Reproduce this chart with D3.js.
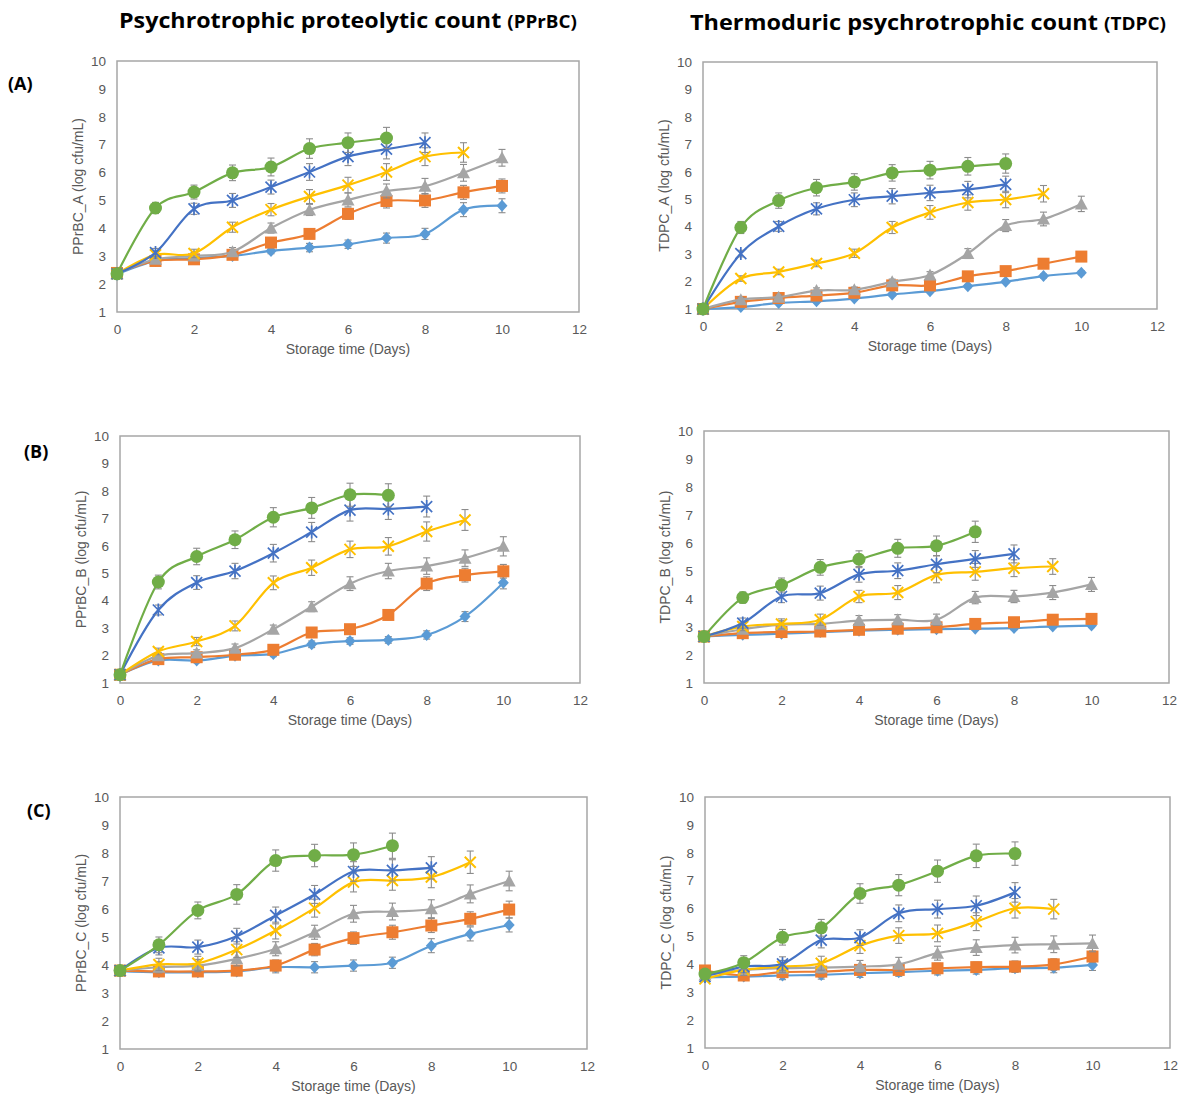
<!DOCTYPE html>
<html>
<head>
<meta charset="utf-8">
<script src="https://cdn.jsdelivr.net/npm/d3@7"></script>
<style>
  body { margin: 0; background: #fff; }
  text { font-family: "Liberation Sans", Arial, sans-serif; }
</style>
</head>
<body>
<script>
// days sampled (series stop early when spoiled)
const days = [0, 1, 2, 3, 4, 5, 6, 7, 8, 9, 10];
const xTicks = [0, 2, 4, 6, 8, 10, 12];
const yTicks = [1, 2, 3, 4, 5, 6, 7, 8, 9, 10];

// series order: diamond, square, triangle, cross, star, circle
const seriesKeys = ["diamond", "square", "triangle", "cross", "star", "circle"];
const seriesColors = ["#5B9BD5", "#ED7D31", "#A5A5A5", "#FFC000", "#4472C4", "#70AD47"];

const pprbcA = [
  [2.35, 2.83, 2.93, 3.01, 3.19, 3.31, 3.43, 3.65, 3.80, 4.67, 4.81],
  [2.40, 2.83, 2.89, 3.05, 3.49, 3.80, 4.52, 4.98, 5.00, 5.29, 5.52],
  [2.37, 2.89, 3.01, 3.16, 4.01, 4.66, 5.02, 5.34, 5.51, 5.99, 6.53],
  [2.37, 3.05, 3.10, 4.04, 4.67, 5.14, 5.55, 6.02, 6.57, 6.72],
  [2.37, 3.13, 4.70, 5.00, 5.48, 6.02, 6.57, 6.84, 7.07],
  [2.37, 4.73, 5.30, 5.99, 6.20, 6.86, 7.07, 7.24]
];
const pprbcAErr = [
  [0.05, 0.08, 0.08, 0.10, 0.10, 0.15, 0.15, 0.18, 0.20, 0.25, 0.25],
  [0.05, 0.08, 0.10, 0.12, 0.12, 0.15, 0.20, 0.25, 0.25, 0.25, 0.25],
  [0.05, 0.10, 0.12, 0.15, 0.18, 0.20, 0.25, 0.25, 0.28, 0.30, 0.30],
  [0.05, 0.12, 0.15, 0.18, 0.22, 0.25, 0.28, 0.30, 0.32, 0.35],
  [0.05, 0.15, 0.20, 0.25, 0.25, 0.30, 0.32, 0.35, 0.35],
  [0.05, 0.20, 0.25, 0.28, 0.32, 0.35, 0.35, 0.38]
];

const tdpcA = [
  [1.00, 1.07, 1.22, 1.28, 1.38, 1.53, 1.65, 1.83, 1.99, 2.20, 2.32],
  [1.00, 1.26, 1.40, 1.49, 1.59, 1.86, 1.86, 2.19, 2.38, 2.65, 2.91],
  [1.00, 1.34, 1.43, 1.67, 1.70, 1.99, 2.24, 3.02, 4.04, 4.28, 4.83],
  [1.00, 2.11, 2.35, 2.66, 3.03, 3.97, 4.52, 4.88, 4.99, 5.20],
  [1.00, 3.02, 4.01, 4.65, 4.98, 5.11, 5.23, 5.35, 5.54],
  [1.00, 3.97, 4.95, 5.42, 5.63, 5.96, 6.06, 6.20, 6.30]
];
const tdpcAErr = [
  [0.02, 0.03, 0.04, 0.04, 0.05, 0.05, 0.05, 0.06, 0.06, 0.07, 0.07],
  [0.02, 0.05, 0.06, 0.06, 0.07, 0.08, 0.10, 0.10, 0.10, 0.10, 0.10],
  [0.02, 0.08, 0.08, 0.10, 0.10, 0.10, 0.12, 0.18, 0.22, 0.25, 0.28],
  [0.02, 0.10, 0.10, 0.12, 0.15, 0.22, 0.25, 0.28, 0.30, 0.30],
  [0.02, 0.12, 0.18, 0.22, 0.25, 0.28, 0.28, 0.30, 0.30],
  [0.02, 0.22, 0.28, 0.30, 0.30, 0.30, 0.32, 0.32, 0.35]
];

const pprbcB = [
  [1.30, 1.82, 1.82, 1.99, 2.06, 2.41, 2.53, 2.57, 2.75, 3.42, 4.65],
  [1.30, 1.87, 1.94, 2.03, 2.21, 2.84, 2.96, 3.48, 4.62, 4.93, 5.07],
  [1.30, 1.99, 2.09, 2.27, 2.96, 3.78, 4.62, 5.08, 5.26, 5.55, 5.98],
  [1.30, 2.15, 2.51, 3.08, 4.65, 5.20, 5.87, 5.98, 6.52, 6.94],
  [1.30, 3.66, 4.66, 5.08, 5.73, 6.50, 7.30, 7.34, 7.43],
  [1.30, 4.68, 5.61, 6.22, 7.04, 7.38, 7.86, 7.84]
];
const pprbcBErr = [
  [0.05, 0.08, 0.08, 0.08, 0.10, 0.12, 0.12, 0.12, 0.15, 0.18, 0.22],
  [0.05, 0.08, 0.10, 0.10, 0.12, 0.15, 0.15, 0.18, 0.25, 0.25, 0.25],
  [0.05, 0.12, 0.12, 0.15, 0.15, 0.18, 0.25, 0.28, 0.30, 0.30, 0.35],
  [0.05, 0.12, 0.15, 0.18, 0.25, 0.28, 0.30, 0.32, 0.35, 0.38],
  [0.05, 0.18, 0.25, 0.28, 0.32, 0.35, 0.40, 0.38, 0.38],
  [0.05, 0.25, 0.30, 0.32, 0.35, 0.38, 0.42, 0.42]
];

const tdpcB = [
  [2.66, 2.72, 2.76, 2.82, 2.87, 2.90, 2.92, 2.94, 2.96, 3.02, 3.05],
  [2.66, 2.78, 2.82, 2.84, 2.90, 2.94, 2.99, 3.11, 3.17, 3.26, 3.29],
  [2.66, 2.92, 3.08, 3.11, 3.23, 3.26, 3.26, 4.05, 4.09, 4.23, 4.52],
  [2.66, 3.02, 3.11, 3.26, 4.09, 4.23, 4.86, 4.97, 5.10, 5.16],
  [2.66, 3.14, 4.09, 4.21, 4.88, 5.01, 5.24, 5.43, 5.61],
  [2.66, 4.05, 4.50, 5.13, 5.42, 5.81, 5.90, 6.40]
];
const tdpcBErr = [
  [0.03, 0.05, 0.05, 0.05, 0.05, 0.06, 0.06, 0.06, 0.06, 0.07, 0.07],
  [0.03, 0.06, 0.06, 0.07, 0.08, 0.08, 0.08, 0.10, 0.10, 0.10, 0.10],
  [0.03, 0.12, 0.15, 0.15, 0.18, 0.18, 0.20, 0.22, 0.22, 0.25, 0.25],
  [0.03, 0.15, 0.18, 0.20, 0.22, 0.25, 0.28, 0.30, 0.30, 0.28],
  [0.03, 0.18, 0.22, 0.25, 0.28, 0.28, 0.30, 0.30, 0.32],
  [0.03, 0.20, 0.25, 0.28, 0.30, 0.32, 0.35, 0.38]
];

const pprbcC = [
  [3.78, 3.74, 3.74, 3.77, 3.92, 3.92, 3.98, 4.08, 4.69, 5.11, 5.43],
  [3.80, 3.77, 3.77, 3.80, 3.98, 4.55, 4.96, 5.17, 5.41, 5.65, 5.98],
  [3.80, 3.92, 3.98, 4.22, 4.58, 5.17, 5.83, 5.91, 6.01, 6.54, 7.00],
  [3.80, 4.02, 4.06, 4.55, 5.23, 6.03, 6.96, 7.02, 7.14, 7.67],
  [3.80, 4.61, 4.64, 5.03, 5.77, 6.52, 7.34, 7.38, 7.47],
  [3.80, 4.72, 5.95, 6.52, 7.73, 7.91, 7.94, 8.26]
];
const pprbcCErr = [
  [0.05, 0.15, 0.15, 0.15, 0.20, 0.20, 0.20, 0.20, 0.25, 0.25, 0.25],
  [0.05, 0.15, 0.15, 0.15, 0.20, 0.22, 0.22, 0.25, 0.25, 0.25, 0.30],
  [0.05, 0.20, 0.22, 0.25, 0.25, 0.25, 0.30, 0.30, 0.32, 0.32, 0.35],
  [0.05, 0.22, 0.25, 0.28, 0.30, 0.32, 0.35, 0.35, 0.38, 0.40],
  [0.05, 0.25, 0.25, 0.28, 0.30, 0.32, 0.35, 0.38, 0.40],
  [0.05, 0.28, 0.30, 0.35, 0.38, 0.40, 0.42, 0.45]
];

const tdpcC = [
  [3.53, 3.56, 3.60, 3.62, 3.68, 3.72, 3.77, 3.80, 3.86, 3.88, 3.98],
  [3.78, 3.60, 3.72, 3.74, 3.80, 3.80, 3.86, 3.90, 3.92, 4.00, 4.28],
  [3.62, 3.80, 3.86, 3.88, 3.92, 4.00, 4.40, 4.60, 4.69, 4.72, 4.75],
  [3.48, 3.80, 3.92, 4.04, 4.67, 5.03, 5.11, 5.53, 6.01, 5.98],
  [3.56, 3.92, 4.02, 4.87, 4.96, 5.83, 5.98, 6.10, 6.58],
  [3.65, 4.06, 4.97, 5.31, 6.54, 6.84, 7.34, 7.89, 7.97]
];
const tdpcCErr = [
  [0.05, 0.10, 0.15, 0.15, 0.15, 0.15, 0.15, 0.15, 0.15, 0.18, 0.20],
  [0.05, 0.10, 0.12, 0.15, 0.15, 0.15, 0.18, 0.18, 0.20, 0.20, 0.20],
  [0.05, 0.15, 0.18, 0.20, 0.22, 0.25, 0.25, 0.28, 0.28, 0.30, 0.30],
  [0.05, 0.20, 0.22, 0.25, 0.28, 0.28, 0.30, 0.32, 0.35, 0.35],
  [0.05, 0.22, 0.25, 0.28, 0.28, 0.30, 0.32, 0.35, 0.35],
  [0.05, 0.25, 0.28, 0.30, 0.35, 0.38, 0.40, 0.42, 0.42]
];

const yLabels = ["PPrBC_A (log cfu/mL)", "TDPC_A (log cfu/mL)",
                 "PPrBC_B (log cfu/mL)", "TDPC_B (log cfu/mL)",
                 "PPrBC_C (log cfu/mL)", "TDPC_C (log cfu/mL)"];
const rowLabels = ["(A)", "(B)", "(C)"];

// plot-area boxes, left/top/right/bottom
const panels = [
  { vals: pprbcA, errs: pprbcAErr, l: 117, t: 61,  r: 579,  b: 312 },
  { vals: tdpcA,  errs: tdpcAErr,  l: 703, t: 62,  r: 1157, b: 309 },
  { vals: pprbcB, errs: pprbcBErr, l: 120, t: 436, r: 580,  b: 683 },
  { vals: tdpcB,  errs: tdpcBErr,  l: 704, t: 431, r: 1169, b: 683 },
  { vals: pprbcC, errs: pprbcCErr, l: 120, t: 797, r: 587,  b: 1049 },
  { vals: tdpcC,  errs: tdpcCErr,  l: 705, t: 797, r: 1170, b: 1048 }
];

const svg = d3.select("body").append("svg")
  .attr("width", 1192)
  .attr("height", 1100);

// column titles
const titles = [
  { main: "Psychrotrophic proteolytic count ", abbr: "(PPrBC)", x: 119, y: 28, w: 458 },
  { main: "Thermoduric psychrotrophic count ", abbr: "(TDPC)", x: 690, y: 30, w: 476 }
];
titles.forEach(t => {
  const txt = svg.append("text")
    .style("font-family", "'Open Sans', sans-serif")
    .attr("font-weight", "bold")
    .attr("fill", "#000");
  txt.append("tspan").attr("font-size", 21).text(t.main);
  txt.append("tspan").attr("font-size", 17).text(t.abbr);
  const w = txt.node().getComputedTextLength();
  txt.attr("transform", "translate(" + t.x + "," + t.y + ") scale(" + (t.w / w) + ",1)");
});

// row labels
svg.selectAll(".rowlab")
  .data(rowLabels).enter()
  .append("text")
  .attr("class", "rowlab")
  .attr("x", (d, i) => [8, 24, 27][i])
  .attr("y", (d, i) => [90, 458, 817][i])
  .style("font-family", "'Open Sans', sans-serif")
  .attr("font-weight", "bold")
  .attr("font-size", 18)
  .text(d => d);

function drawMarker(g, key, color) {
  if (key === "diamond") {
    g.append("path").attr("d", "M0,-6L5.5,0L0,6L-5.5,0Z").attr("fill", color);
  } else if (key === "square") {
    g.append("rect").attr("x", -6).attr("y", -6).attr("width", 12).attr("height", 12).attr("fill", color);
  } else if (key === "triangle") {
    g.append("path").attr("d", "M0,-6.5L6.5,5.5L-6.5,5.5Z").attr("fill", color);
  } else if (key === "cross") {
    g.append("path").attr("d", "M-5.5,-5.5L5.5,5.5M-5.5,5.5L5.5,-5.5").attr("stroke", color).attr("stroke-width", 2);
  } else if (key === "star") {
    g.append("path").attr("d", "M-5.5,-5.5L5.5,5.5M-5.5,5.5L5.5,-5.5M0,-6.5L0,6.5").attr("stroke", color).attr("stroke-width", 1.7);
  } else {
    g.append("circle").attr("r", 6.5).attr("fill", color);
  }
}

panels.forEach((p, pi) => {
  const x = d3.scaleLinear().domain([0, 12]).range([p.l, p.r]);
  const y = d3.scaleLinear().domain([1, 10]).range([p.b, p.t]);
  const g = svg.append("g");

  g.append("rect")
    .attr("x", p.l).attr("y", p.t)
    .attr("width", p.r - p.l).attr("height", p.b - p.t)
    .attr("fill", "none")
    .attr("stroke", "#a6a6a6")
    .attr("stroke-width", 1.5);

  const xAxis = g.append("g")
    .attr("transform", "translate(0," + p.b + ")")
    .call(d3.axisBottom(x).tickValues(xTicks).tickSize(0).tickPadding(12));
  const yAxis = g.append("g")
    .attr("transform", "translate(" + p.l + ",0)")
    .call(d3.axisLeft(y).tickValues(yTicks).tickSize(0).tickPadding(11));
  [xAxis, yAxis].forEach(a => {
    a.select(".domain").remove();
    a.selectAll("text")
      .attr("fill", "#595959")
      .attr("font-size", 13.5)
      .style("font-family", "'Liberation Sans', Arial, sans-serif");
  });

  g.append("text")
    .attr("x", (p.l + p.r) / 2)
    .attr("y", p.b + 42)
    .attr("text-anchor", "middle")
    .attr("fill", "#595959")
    .attr("font-size", 14)
    .text("Storage time (Days)");

  g.append("text")
    .attr("transform", "translate(" + (p.l - 34) + "," + ((p.t + p.b) / 2) + ") rotate(-90)")
    .attr("text-anchor", "middle")
    .attr("fill", "#595959")
    .attr("font-size", 14)
    .text(yLabels[pi]);

  const line = d3.line()
    .x((d, i) => x(days[i]))
    .y(d => y(d))
    .curve(d3.curveCatmullRom.alpha(0));

  p.vals.forEach((vals, si) => {
    const color = seriesColors[si];
    const errs = p.errs[si];

    g.append("path")
      .datum(vals)
      .attr("d", line)
      .attr("fill", "none")
      .attr("stroke", color)
      .attr("stroke-width", 2.2);

    const eb = g.append("g").selectAll("g")
      .data(vals).enter()
      .append("g")
      .attr("stroke", "#8c8c8c")
      .attr("stroke-width", 1.1);
    eb.append("line")
      .attr("x1", (d, i) => x(days[i])).attr("x2", (d, i) => x(days[i]))
      .attr("y1", (d, i) => y(d - errs[i])).attr("y2", (d, i) => y(d + errs[i]));
    eb.append("line")
      .attr("x1", (d, i) => x(days[i]) - 3.5).attr("x2", (d, i) => x(days[i]) + 3.5)
      .attr("y1", (d, i) => y(d + errs[i])).attr("y2", (d, i) => y(d + errs[i]));
    eb.append("line")
      .attr("x1", (d, i) => x(days[i]) - 3.5).attr("x2", (d, i) => x(days[i]) + 3.5)
      .attr("y1", (d, i) => y(d - errs[i])).attr("y2", (d, i) => y(d - errs[i]));

    g.append("g").selectAll("g")
      .data(vals).enter()
      .append("g")
      .attr("transform", (d, i) => "translate(" + x(days[i]) + "," + y(d) + ")")
      .each(function () { drawMarker(d3.select(this), seriesKeys[si], color); });
  });
});
</script>
</body>
</html>
